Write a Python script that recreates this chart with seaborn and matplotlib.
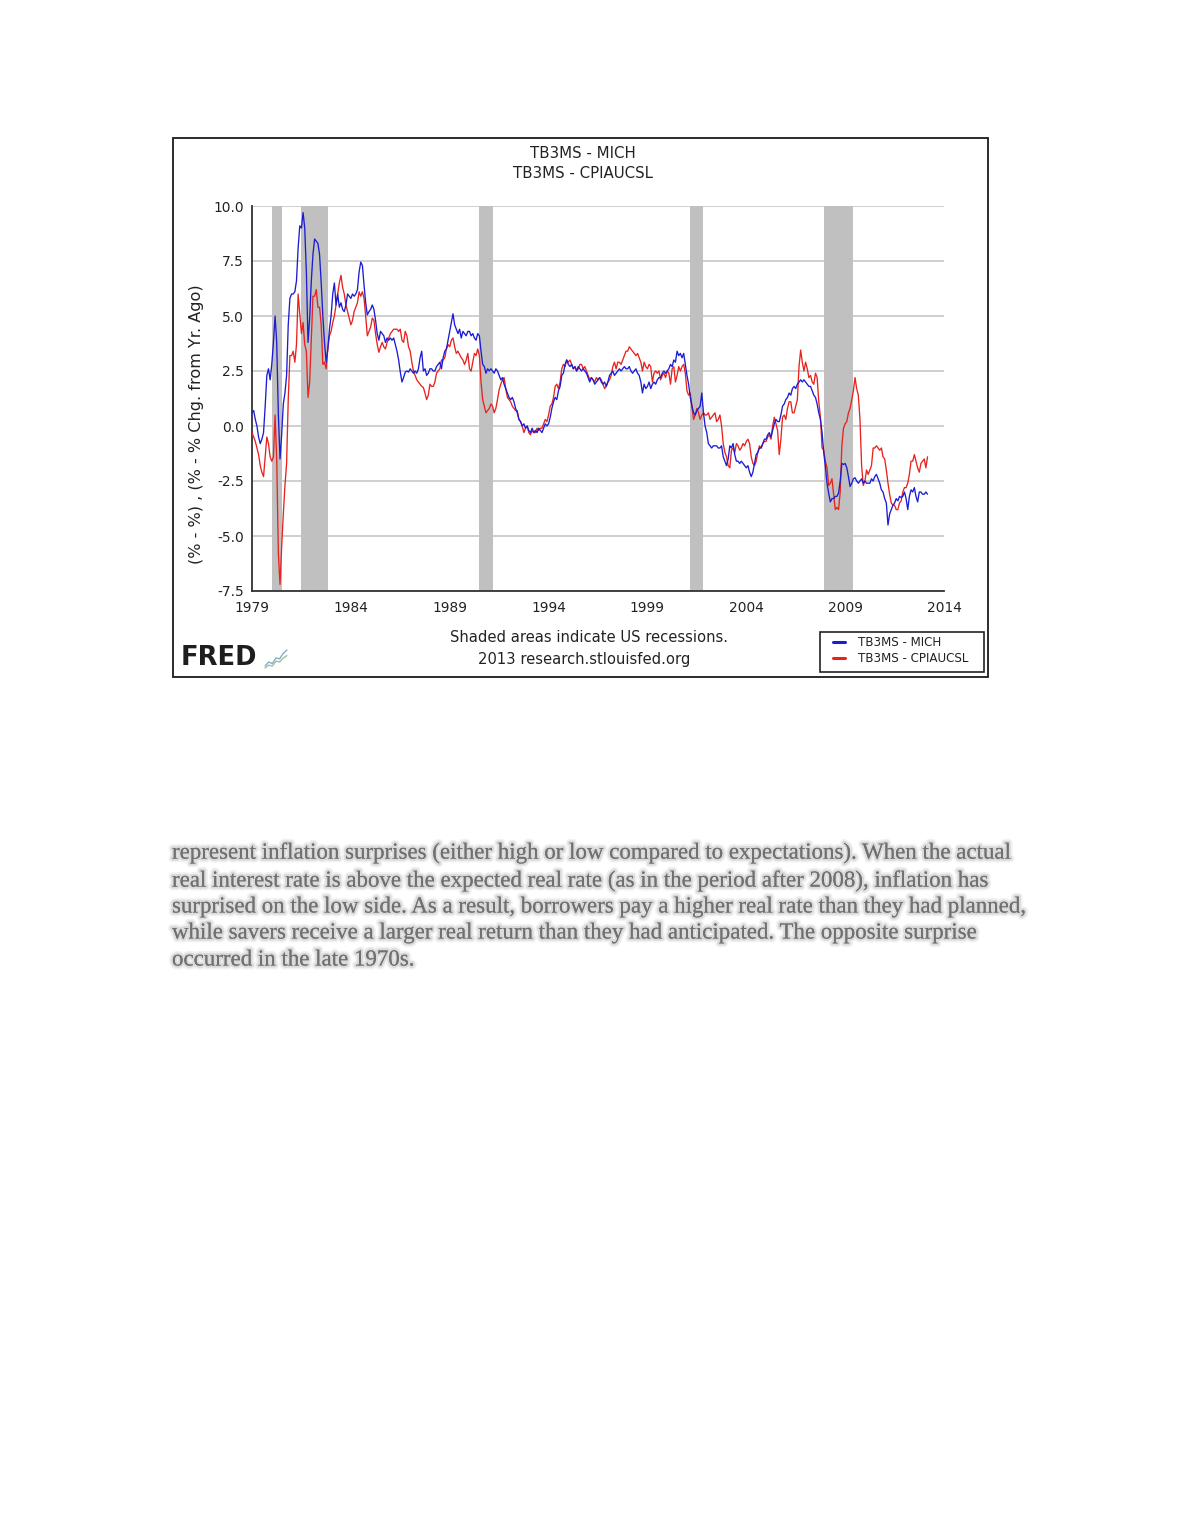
import numpy as np
import pandas as pd
import matplotlib
matplotlib.use("Agg")
import matplotlib.pyplot as plt
import matplotlib.patheffects as pe
from matplotlib.patches import Rectangle
from matplotlib.lines import Line2D
import seaborn as sns

# ---------------- data (monthly, starting Jan 1979) ----------------
start_month = "1979-01"

tb3ms_mich = [
    0.6, 0.7, 0.3, 0.0, -0.5, -0.8, -0.6, -0.3, 0.9, 2.3, 2.6, 2.1,        # 1979
    2.8, 3.8, 5.0, 3.8, 0.5, -1.5, -0.4, 1.0, 1.5, 2.3, 4.6, 5.8,          # 1980
    6.0, 6.0, 6.1, 6.6, 8.1, 9.1, 9.0, 9.7, 9.0, 7.0, 3.8, 4.9,            # 1981
    6.6, 7.8, 8.5, 8.4, 8.3, 7.8, 6.5, 5.0, 3.8, 2.9, 3.5, 4.4,            # 1982
    5.0, 6.0, 6.5, 5.5, 6.0, 5.4, 5.6, 5.3, 5.2, 5.5, 6.0, 5.9,            # 1983
    5.8, 6.0, 5.9, 6.0, 6.2, 7.0, 7.45, 7.3, 6.4, 5.6, 5.05, 5.2,          # 1984
    5.3, 5.5, 5.3, 4.8, 4.2, 3.9, 4.3, 4.2, 4.1, 3.8, 4.0, 3.9,            # 1985
    4.0, 3.9, 4.0, 3.7, 3.4, 3.0, 2.45, 2.0, 2.2, 2.45, 2.5, 2.45,         # 1986
    2.6, 2.5, 2.4, 2.5, 2.4, 2.6, 3.1, 3.4, 2.5, 2.6, 2.3, 2.4,            # 1987
    2.6, 2.6, 2.5, 2.5, 2.7, 2.8, 2.9, 2.6, 3.1, 3.4, 3.5, 3.9,            # 1988
    4.3, 4.7, 5.1, 4.6, 4.4, 4.2, 4.4, 4.0, 4.3, 4.2, 4.1, 4.3,            # 1989
    4.3, 4.1, 4.2, 4.0, 3.9, 4.2, 4.1, 3.4, 2.8, 2.7, 2.4, 2.6,            # 1990
    2.5, 2.6, 2.5, 2.4, 2.6, 2.5, 2.3, 2.1, 2.2, 1.9, 1.7, 1.5,            # 1991
    1.3, 1.2, 1.3, 1.1, 0.8, 0.6, 0.3, 0.2, 0.0, 0.1, -0.1, 0.0,           # 1992
    -0.2, -0.3, -0.1, -0.3, -0.2, -0.3, -0.1, -0.2, -0.3, -0.1, 0.1, 0.0,  # 1993
    0.1, 0.4, 0.8, 1.1, 1.3, 1.2, 1.6, 1.8, 2.3, 2.4, 2.8, 3.0,            # 1994
    2.8, 2.7, 2.8, 2.6, 2.7, 2.5, 2.7, 2.6, 2.5, 2.6, 2.5, 2.4,            # 1995
    2.2, 2.0, 2.2, 2.1, 1.9, 2.0, 2.1, 2.2, 2.0, 1.9, 2.0, 1.8,            # 1996
    2.0, 2.3, 2.4, 2.5, 2.3, 2.4, 2.5, 2.6, 2.5, 2.6, 2.7, 2.6,            # 1997
    2.6, 2.7, 2.5, 2.4, 2.5, 2.6, 2.4, 2.3, 2.0, 1.5, 1.9, 1.7,            # 1998
    1.8, 2.0, 1.7, 1.9, 2.0, 1.9, 2.1, 2.2, 2.2, 2.4, 2.5, 2.4,            # 1999
    2.5, 2.6, 2.8, 2.7, 3.0, 2.9, 3.4, 3.2, 3.3, 3.1, 3.3, 2.8,            # 2000
    2.3, 1.9, 1.3, 0.9, 0.6, 0.5, 0.7, 0.8, 0.9, 1.5, 0.6, 0.0,            # 2001
    -0.3, -0.8, -0.9, -1.0, -0.9, -0.9, -0.9, -1.0, -1.0, -0.9, -1.4, -1.6,  # 2002
    -1.8, -1.5, -0.9, -1.0, -0.8, -1.3, -1.6, -1.6, -1.7, -1.6, -1.7, -1.8,  # 2003
    -1.9, -1.8, -2.1, -2.3, -2.1, -1.7, -1.3, -1.2, -1.0, -1.0, -0.8, -0.6,  # 2004
    -0.6, -0.4, -0.3, -0.5, -0.2, 0.1, 0.3, 0.2, 0.2, 0.5, 0.9, 1.0,       # 2005
    1.2, 1.3, 1.5, 1.4, 1.7, 1.8, 1.7, 1.9, 2.0, 2.1, 2.0, 2.1,            # 2006
    2.0, 1.9, 1.8, 1.8, 1.6, 1.4, 1.3, 1.0, 0.6, 0.3, -0.3, -1.2,          # 2007
    -1.85, -2.6, -3.05, -3.45, -3.3, -3.3, -3.2, -3.2, -3.05, -2.5, -1.7, -1.75,  # 2008
    -1.7, -1.9, -2.3, -2.75, -2.6, -2.4, -2.35, -2.5, -2.6, -2.5, -2.4, -2.6,    # 2009
    -2.5, -2.6, -2.6, -2.6, -2.4, -2.5, -2.3, -2.2, -2.4, -2.6, -2.9, -3.0,      # 2010
    -3.3, -3.5, -4.5, -4.0, -3.8, -3.6, -3.5, -3.3, -3.4, -3.2, -3.25, -3.2,     # 2011
    -3.0, -3.3, -3.8, -3.2, -2.9, -3.0, -2.8, -3.2, -3.45, -3.0, -3.0, -3.1,     # 2012
    -3.1, -3.0, -3.1,                                                            # 2013
]

tb3ms_cpiaucsl = [
    -0.3, -0.5, -0.7, -1.0, -1.3, -1.8, -2.1, -2.3, -1.4, -0.5, -0.8, -1.4,  # 1979
    -1.6, -1.4, 0.5, -1.5, -5.8, -7.2, -5.5, -4.0, -2.7, -1.7, 1.2, 3.2,     # 1980
    3.2, 3.4, 2.9, 3.7, 6.0, 5.1, 4.2, 4.7, 3.7, 3.4, 1.3, 2.0,              # 1981
    3.9, 5.9, 5.9, 6.2, 5.4, 5.4, 4.6, 2.8, 2.9, 2.6, 3.5, 4.1,              # 1982
    4.3, 4.7, 5.0, 5.5, 6.0, 6.5, 6.85, 6.3, 6.0, 5.5, 5.2, 4.9,             # 1983
    4.6, 4.8, 5.2, 5.4, 5.6, 6.1, 5.9, 6.1, 5.8, 5.0, 4.1, 4.3,              # 1984
    4.5, 4.9, 4.8, 4.2, 3.7, 3.35, 3.6, 3.8, 3.6, 3.5, 3.8, 4.0,             # 1985
    4.2, 4.3, 4.4, 4.4, 4.4, 4.3, 4.4, 3.9, 3.8, 4.3, 4.1, 3.6,              # 1986
    3.4, 2.9, 2.5, 2.3, 2.1, 2.0, 1.9, 1.8, 1.75, 1.5, 1.2, 1.4,             # 1987
    1.9, 1.8, 1.8, 2.0, 2.4, 2.5, 2.6, 3.0, 3.0, 3.1, 3.5, 3.7,              # 1988
    3.6, 3.9, 4.0, 3.6, 3.3, 3.4, 3.25, 3.1, 3.0, 2.8, 3.0, 3.3,             # 1989
    2.6, 2.5, 2.9, 3.3, 3.2, 3.5, 3.2, 2.0, 1.2, 0.9, 0.6, 0.7,              # 1990
    0.8, 1.0, 0.9, 0.6, 0.8, 1.2, 1.65, 1.9, 2.1, 2.2, 1.7, 1.3,             # 1991
    1.2, 1.1, 0.9, 0.8, 0.7, 0.7, 0.3, 0.2, 0.0, -0.3, -0.1, 0.0,            # 1992
    -0.3, -0.4, -0.2, -0.3, -0.3, -0.1, -0.2, -0.1, -0.1, 0.1, 0.3, 0.2,     # 1993
    0.5, 0.9, 1.0, 1.3, 1.8, 1.9, 1.7, 2.0, 2.6, 2.8, 2.7, 3.0,              # 1994
    2.9, 3.0, 2.8, 2.6, 2.7, 2.5, 2.6, 2.8, 2.8, 2.6, 2.7, 2.5,              # 1995
    2.3, 2.1, 2.2, 2.1, 2.0, 2.2, 2.1, 2.2, 2.1, 1.9, 1.7, 1.8,              # 1996
    2.0, 2.1, 2.3, 2.7, 2.9, 2.6, 2.9, 2.9, 2.8, 3.0, 3.2, 3.4,              # 1997
    3.4, 3.6, 3.5, 3.4, 3.3, 3.2, 3.3, 3.1, 2.9, 2.5, 2.9, 2.7,              # 1998
    2.6, 2.8, 2.7, 2.0, 2.4, 2.5, 2.4, 2.5, 2.1, 2.3, 2.4, 2.2,              # 1999
    2.5, 2.4, 1.9, 2.6, 2.7, 2.0, 2.3, 2.7, 2.5, 2.7, 2.8, 2.4,              # 2000
    1.6, 1.4, 1.5, 0.9, 0.3, 0.5, 0.8, 0.6, 0.3, 0.5, 0.6, 0.5,              # 2001
    0.5, 0.6, 0.3, 0.4, 0.5, 0.6, 0.2, 0.3, 0.5, 0.0, -0.8, -1.2,            # 2002
    -1.4, -1.8, -1.9, -1.1, -1.0, -1.2, -0.8, -0.9, -1.1, -1.0, -0.8, -0.9,  # 2003
    -0.7, -0.6, -0.8, -1.4, -1.7, -1.8, -1.6, -1.2, -0.9, -1.0, -0.8, -0.7,  # 2004
    -0.7, -0.5, -0.4, -0.6, 0.0, 0.4, 0.1, -0.2, -1.3, -0.6, 0.4, 0.5,       # 2005
    0.3, 0.8, 1.1, 1.1, 0.6, 0.6, 0.9, 1.2, 2.7, 3.45, 2.9, 2.5,             # 2006
    2.9, 2.6, 2.2, 2.3, 2.0, 1.9, 2.4, 2.2, 1.1, 0.4, -1.0, -1.1,            # 2007
    -1.6, -1.9, -2.7, -2.6, -2.4, -3.1, -3.8, -3.7, -3.8, -3.0, -0.9, -0.1,  # 2008
    0.1, 0.2, 0.6, 0.8, 1.2, 1.6, 2.2, 1.7, 1.4, 0.3, -1.8, -2.7,            # 2009
    -2.5, -2.0, -2.2, -2.0, -1.8, -1.0, -1.0, -0.9, -1.0, -1.1, -1.0, -1.4,  # 2010
    -1.5, -2.0, -2.6, -3.1, -3.5, -3.6, -3.6, -3.8, -3.8, -3.5, -3.4, -3.0,  # 2011
    -2.8, -2.8, -2.6, -2.2, -1.6, -1.6, -1.3, -1.6, -1.9, -2.1, -1.7, -1.6,  # 2012
    -1.5, -1.9, -1.4,                                                        # 2013
]

recession_starts = ["1980-01", "1981-07", "1990-07", "2001-03", "2007-12"]
recession_ends = ["1980-07", "1982-11", "1991-03", "2001-11", "2009-06"]

series_names = ["TB3MS - MICH", "TB3MS - CPIAUCSL"]
series_colors = ["#1c1cd4", "#e8231f"]

x_ticks = [1979, 1984, 1989, 1994, 1999, 2004, 2009, 2014]
y_ticks = [-7.5, -5.0, -2.5, 0.0, 2.5, 5.0, 7.5, 10.0]

chart_title = ["TB3MS - MICH", "TB3MS - CPIAUCSL"]
y_label = "(% - %) , (% - % Chg. from Yr. Ago)"
note_lines = ["Shaded areas indicate US recessions.", "2013 research.stlouisfed.org"]

paragraph = [
    "represent inflation surprises (either high or low compared to expectations). When the actual",
    "real interest rate is above the expected real rate (as in the period after 2008), inflation has",
    "surprised on the low side. As a result, borrowers pay a higher real rate than they had planned,",
    "while savers receive a larger real return than they had anticipated. The opposite surprise",
    "occurred in the late 1970s.",
]

# ---------------- build tidy frame ----------------
def to_decimal(ts):
    return ts.year + (ts.month - 1) / 12.0

dates = pd.date_range(start_month, periods=len(tb3ms_mich), freq="MS")
df = pd.DataFrame({
    "date": np.concatenate([[to_decimal(d) for d in dates]] * 2),
    "value": np.array(tb3ms_mich + tb3ms_cpiaucsl, dtype=float),
    "series": [series_names[0]] * len(tb3ms_mich) + [series_names[1]] * len(tb3ms_cpiaucsl),
})

# ---------------- figure ----------------
sns.set_style("white")
plt.rcParams["font.family"] = ["DejaVu Sans"]

W, H = 1180, 1527
fig = plt.figure(figsize=(W / 100, H / 100), dpi=100)
fig.patch.set_facecolor("white")

def fx(px):
    return px / W

def fy(py):
    return 1 - py / H

# chart frame
fig.patches.append(Rectangle((fx(173), fy(677)), fx(988) - fx(173), fy(138) - fy(677),
                             transform=fig.transFigure, fill=False, edgecolor="#1a1a1a",
                             linewidth=1.3, zorder=0))

ax = fig.add_axes([fx(252), fy(591), fx(944) - fx(252), fy(206) - fy(591)])
ax.set_xlim(1979, 2014)
ax.set_ylim(-7.5, 10.0)

for s, e in zip(recession_starts, recession_ends):
    ts, te = pd.Timestamp(s), pd.Timestamp(e)
    ax.axvspan(to_decimal(ts), to_decimal(te), color="#c0c0c0", lw=0, zorder=1)

for yv in y_ticks:
    ax.axhline(yv, color="#c2c2c2", lw=1.1, zorder=0.5)

sns.lineplot(data=df, x="date", y="value", hue="series", palette=dict(zip(series_names, series_colors)),
             hue_order=series_names[::-1], lw=0.95, legend=False, ax=ax, zorder=3, estimator=None)

ax.set_xticks(x_ticks)
ax.set_xticklabels([str(t) for t in x_ticks])
ax.set_yticks(y_ticks)
ax.set_yticklabels([f"{t:.1f}" for t in y_ticks])
ax.set_xlabel("")
ax.set_ylabel("")
for sp in ["top", "right"]:
    ax.spines[sp].set_visible(False)
for sp in ["left", "bottom"]:
    ax.spines[sp].set_color("#333333")
    ax.spines[sp].set_linewidth(1.3)
ax.tick_params(axis="x", direction="in", length=6, width=1.1, color="#333333",
               labelsize=9.9, labelcolor="#222222", pad=7)
ax.tick_params(axis="y", direction="out", length=3, width=1.1, color="#333333",
               labelsize=9.9, labelcolor="#222222", pad=3)
ax.grid(False)
ax.set_facecolor("white")

# titles and labels
fig.text(fx(583), fy(153), chart_title[0], ha="center", va="center", fontsize=10.8, color="#222222")
fig.text(fx(583), fy(173), chart_title[1], ha="center", va="center", fontsize=10.8, color="#222222")
fig.text(fx(197), fy(424), y_label, ha="center", va="center", rotation=90, fontsize=11.6, color="#222222")
fig.text(fx(589), fy(638), note_lines[0], ha="center", va="center", fontsize=10.6, color="#222222")
fig.text(fx(584), fy(659), note_lines[1], ha="center", va="center", fontsize=10.6, color="#222222")

# legend box (drawn in figure pixels to match the FRED layout)
fig.patches.append(Rectangle((fx(820), fy(672)), fx(984) - fx(820), fy(632) - fy(672),
                             transform=fig.transFigure, fill=False, edgecolor="#222222",
                             linewidth=1.2, zorder=5))
for name, col, yy in zip(series_names, series_colors, [642, 658]):
    fig.add_artist(Line2D([fx(833), fx(845)], [fy(yy), fy(yy)], transform=fig.transFigure,
                          color=col, lw=2.2))
    fig.text(fx(858), fy(yy), name, ha="left", va="center", fontsize=8.6, color="#222222")

# FRED logo
fig.text(fx(181), fy(658), "FRED", ha="left", va="center", fontsize=18.5, fontweight="bold",
         color="#1e1e1e", family="DejaVu Sans")
logo_ax = fig.add_axes([fx(264), fy(670), fx(24), 22 / H])
logo_ax.set_facecolor("#e8ecea")
logo_x = [0, 1, 2, 3, 4, 5, 6]
logo_y1 = [1, 2, 1.6, 3, 2.8, 4.2, 5]
logo_y2 = [0.5, 1.2, 1.0, 2.2, 2.0, 3.0, 3.6]
logo_ax.plot(logo_x, logo_y1, color="#7fb0c8", lw=1.0)
logo_ax.plot(logo_x, logo_y2, color="#9cc49a", lw=1.0)
logo_ax.set_xlim(-0.3, 6.3)
logo_ax.set_ylim(0, 5.5)
logo_ax.axis("off")

# blurred paragraph below the chart
line_y = [853, 881, 907, 933, 960]
blur = [pe.withStroke(linewidth=5.5, foreground="#f1f1f1"),
        pe.withStroke(linewidth=3.0, foreground="#dadada"),
        pe.Normal()]
for txt, yy in zip(paragraph, line_y):
    fig.text(fx(172), fy(yy), txt, ha="left", va="center", fontsize=16.5,
             family="Liberation Serif", color="#707070", path_effects=blur)

fig.savefig("out.png", dpi=100, facecolor="white")
